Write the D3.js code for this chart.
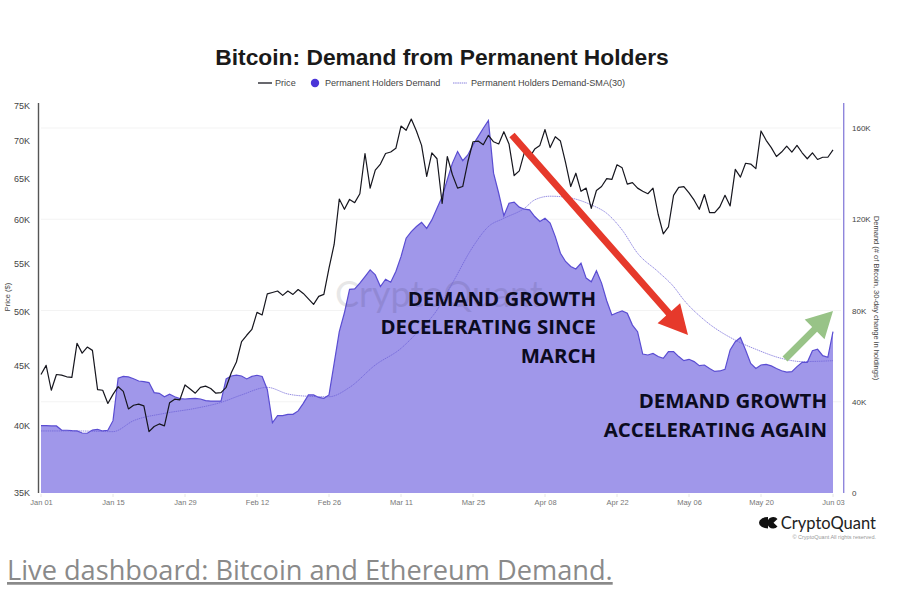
<!DOCTYPE html>
<html>
<head>
<meta charset="utf-8">
<script src="https://cdn.jsdelivr.net/npm/d3@7"></script>
<style>
body { margin: 0; background: #fff; }
text { font-family: "Liberation Sans", Arial, sans-serif; }
.note { font-family: "Open Sans", sans-serif; font-weight: 700; font-size: 20.4px; fill: #0b0b20; text-anchor: end; }
.domain { display: none; }
.tick line { display: none; }
</style>
</head>
<body>
<svg width="897" height="602"></svg>
<script>
// thousands of $, one per day from Jan 01
const priceValues = [
  44.2,45.0,42.85,44.2,44.15,44.0,43.95,47.0,46.1,46.65,46.35,42.9,42.85,41.75,42.5,43.15,42.75,41.3,41.6,41.7,41.55,39.5,39.9,40.1,39.95,41.8,42.1,42.05,43.3,42.95,42.6,
  43.1,43.2,43.0,42.6,42.65,43.1,44.35,45.3,47.15,47.75,48.3,49.95,49.7,51.8,51.95,52.1,51.65,52.1,51.75,52.25,51.85,51.3,50.75,51.55,51.75,54.5,57.1,62.45,61.2,
  62.4,62.0,63.1,68.3,63.8,66.1,66.9,68.3,68.5,69.0,72.1,71.5,73.1,71.4,69.4,65.3,68.4,67.6,61.9,67.9,65.5,63.8,64.0,67.2,69.9,70.0,69.5,70.8,69.9,69.6,71.3,
  69.6,65.4,66.0,68.5,67.8,68.9,69.4,71.6,69.1,70.6,70.0,67.1,64.0,65.7,63.4,63.8,61.3,63.5,64.0,65.0,64.9,66.8,66.4,64.3,64.5,63.8,63.4,63.1,63.8,60.6,
  58.3,59.1,62.9,63.9,64.0,63.2,62.3,61.2,63.0,60.8,60.8,61.5,62.9,61.6,66.2,65.2,67.0,66.9,66.3,71.4,70.1,69.1,67.9,68.5,69.3,68.5,69.4,68.4,67.6,68.4,67.5,
  67.8,67.8,68.8
]

// thousands of BTC, same days
const demandValues = [
  29.5,29.5,29.4,29.4,27.6,27.5,27.3,27.2,26.3,26.2,27.6,27.9,27.2,27.5,31.7,50.3,51.1,50.9,50.1,49.1,48.8,48.4,44,43.7,42.2,43.3,42.2,41.4,41.2,41.4,41.5,
  41.2,40.5,40.3,40.3,40.3,50,51.3,51.7,51.3,50,51.1,51.6,51.1,45.4,30.8,33.9,33.9,34.5,34.5,36,39.3,43,43,41.9,41.5,43,56.8,70.7,79,
  89.3,89.5,92,94.9,97.8,95.6,90.5,93.7,92.4,97.1,103.6,111.7,114.6,116.8,118.6,116,119.7,124.8,129.9,137.3,144.6,149.7,145.7,148.2,152.6,156.2,159.9,163.3,140.2,131.4,121.5,
  127,127.5,125.3,124.4,124.1,121.2,119,120.4,118.3,112.4,105.1,101.5,99.3,98.2,100.7,94.2,92.6,97.4,92,84.3,78,79,79.8,78.8,73.6,70.7,60.9,60.5,61.2,59.8,
  59,62,62,59.8,58,58.6,57.6,55.8,56.1,54.6,53.3,53.5,54.2,62.7,66.3,68.2,62.7,56.8,54.6,56.1,56.4,55.7,54.6,53.6,53,53.2,55.4,57.3,57.3,62.4,63,
  60.2,59.5,70.7
]

// SMA read at these day offsets
const smaDays = [0,7,14,18,24,30,35,39,44,48,52,56,60,65,70,73,77,80,84,87,90,94,96,99,102,107,110,113,116,120,123,125,129,135,139,144,148,154]
const smaValues = [27.2,27.2,26.9,31.7,34.9,37.1,39.7,43,46.3,43.4,42.4,42.2,46.3,56.1,63.4,70,80.2,92,108,116.8,120.4,124.8,128.5,130.1,129.7,126.3,122.6,115.3,105.1,97,90.5,84.6,75.8,67,63,59,57.6,58]

const priceTicks = [35, 40, 45, 50, 55, 60, 65, 70, 75]
const demandTicks = [0, 40, 80, 120, 160]
const dateTickLabels = ["Jan 01","Jan 15","Jan 29","Feb 12","Feb 26","Mar 11","Mar 25","Apr 08","Apr 22","May 06","May 20","Jun 03"]

const parseDay = d3.utcParse("%b %d %Y")
const startDay = parseDay("Jan 01 2024")
const dayAt = (i) => d3.utcDay.offset(startDay, i)

const svg = d3.select("svg")

const xScale = d3.scaleUtc()
    .domain([startDay, parseDay("Jun 03 2024")])
    .range([41, 833])

const priceScale = d3.scaleLog()
    .domain([35, 75])
    .range([493, 106])

const demandScale = d3.scaleLinear()
    .domain([0, 160])
    .range([493, 128])

// grid comes from the right axis
svg.append("g")
    .selectAll("line")
    .data(demandTicks.slice(1))
    .enter()
    .append("line")
    .attr("x1", 41)
    .attr("x2", 841)
    .attr("y1", d => demandScale(d))
    .attr("y2", d => demandScale(d))
    .style("stroke", "#f3f3f3")
    .style("stroke-width", 1)

const areaGenerator = d3.area()
    .x((d, i) => xScale(dayAt(i)))
    .y0(demandScale(0))
    .y1(d => demandScale(d))

const demandLine = d3.line()
    .x((d, i) => xScale(dayAt(i)))
    .y(d => demandScale(d))

svg.append("path")
    .datum(demandValues)
    .attr("d", areaGenerator)
    .style("fill", "#a097ea")

svg.append("path")
    .datum(demandValues)
    .attr("d", demandLine)
    .style("fill", "none")
    .style("stroke", "#5a4dd2")
    .style("stroke-width", 1.2)

// watermark
svg.append("text")
    .attr("x", 335)
    .attr("y", 307)
    .style("font-size", "36px")
    .style("font-family", "Lato, sans-serif")
    .style("fill", "#000")
    .style("opacity", 0.09)
    .text("CryptoQuant")

const smaLine = d3.line()
    .x((d, i) => xScale(dayAt(smaDays[i])))
    .y(d => demandScale(d))
    .curve(d3.curveMonotoneX)

svg.append("path")
    .datum(smaValues)
    .attr("d", smaLine)
    .style("fill", "none")
    .style("stroke", "#6a5fd6")
    .style("stroke-width", 0.7)
    .style("stroke-dasharray", "1.5 0.7")

const priceLine = d3.line()
    .x((d, i) => xScale(dayAt(i)))
    .y(d => priceScale(d))

svg.append("path")
    .datum(priceValues)
    .attr("d", priceLine)
    .style("fill", "none")
    .style("stroke", "#16161e")
    .style("stroke-width", 1.2)
    .style("stroke-linejoin", "round")

// axes
const leftAxis = svg.append("g")
    .attr("transform", "translate(30, 0)")
    .call(d3.axisLeft(priceScale).tickValues(priceTicks).tickSize(0).tickPadding(0).tickFormat(d => d + "K"))

leftAxis.selectAll("text")
    .style("font-size", "9px")
    .style("fill", "#444")

const rightAxis = svg.append("g")
    .attr("transform", "translate(852, 0)")
    .call(d3.axisRight(demandScale).tickValues(demandTicks).tickSize(0).tickPadding(0).tickFormat(d => d ? d + "K" : "0"))

rightAxis.selectAll("text")
    .style("font-size", "8px")
    .style("fill", "#444")

const dateTicks = dateTickLabels.map(d => parseDay(d + " 2024"))

const bottomAxis = svg.append("g")
    .attr("transform", "translate(0, 500)")
    .call(d3.axisBottom(xScale).tickValues(dateTicks).tickSize(0).tickPadding(0).tickFormat(d3.utcFormat("%b %d")))

bottomAxis.selectAll("text")
    .style("font-size", "7.5px")
    .style("fill", "#777")

svg.append("g")
    .selectAll("line")
    .data(dateTicks)
    .enter()
    .append("line")
    .attr("x1", d => xScale(d))
    .attr("x2", d => xScale(d))
    .attr("y1", 494)
    .attr("y2", 497)
    .style("stroke", "#e6e6e6")

svg.append("line")
    .attr("x1", 38.5).attr("x2", 38.5)
    .attr("y1", 103).attr("y2", 493)
    .style("stroke", "#555")
    .style("stroke-width", 1.4)

svg.append("line")
    .attr("x1", 843.7).attr("x2", 843.7)
    .attr("y1", 103).attr("y2", 493)
    .style("stroke", "#8f86dc")
    .style("stroke-width", 1.4)

svg.append("text")
    .attr("transform", "translate(10, 297) rotate(-90)")
    .attr("text-anchor", "middle")
    .style("font-size", "7.5px")
    .style("fill", "#444")
    .text("Price ($)")

svg.append("text")
    .attr("transform", "translate(874, 298) rotate(90)")
    .attr("text-anchor", "middle")
    .style("font-size", "7.5px")
    .style("fill", "#444")
    .text("Demand (# of Bitcoin, 30-day change in holdings)")

// title and legend
svg.append("text")
    .attr("x", 442)
    .attr("y", 65)
    .attr("text-anchor", "middle")
    .style("font-size", "22.8px")
    .style("font-weight", "bold")
    .style("fill", "#1a1a1a")
    .text("Bitcoin: Demand from Permanent Holders")

const legend = svg.append("g").style("font-size", "9.1px").style("fill", "#444")

legend.append("line").attr("x1", 258).attr("x2", 272).attr("y1", 83).attr("y2", 83)
    .style("stroke", "#16161e").style("stroke-width", 1.3)
legend.append("text").attr("x", 275).attr("y", 86).text("Price")
legend.append("circle").attr("cx", 315).attr("cy", 83).attr("r", 4.2).style("fill", "#4b35d8")
legend.append("text").attr("x", 325).attr("y", 86).text("Permanent Holders Demand")
legend.append("line").attr("x1", 453).attr("x2", 467).attr("y1", 83).attr("y2", 83)
    .style("stroke", "#6a5fd6").style("stroke-width", 0.8).style("stroke-dasharray", "1.5 0.7")
legend.append("text").attr("x", 471).attr("y", 86).text("Permanent Holders Demand-SMA(30)")

// arrows
const arrow = (x1, y1, x2, y2, width, headLen, headHalf, color) => {
    const a = Math.atan2(y2 - y1, x2 - x1)
    const c = Math.cos(a), s = Math.sin(a)
    const bx = x2 - headLen * c, by = y2 - headLen * s
    const pts = [
        [x1 - s * width / 2, y1 + c * width / 2],
        [bx - s * width / 2, by + c * width / 2],
        [bx - s * headHalf, by + c * headHalf],
        [x2, y2],
        [bx + s * headHalf, by - c * headHalf],
        [bx + s * width / 2, by - c * width / 2],
        [x1 + s * width / 2, y1 - c * width / 2]
    ]
    svg.append("path")
        .attr("d", d3.line()(pts) + "Z")
        .style("fill", color)
}

arrow(512, 135, 688, 335, 7, 29, 15, "#e6392b")
arrow(785, 359, 833, 311, 7, 26, 14, "#98c387")

// notes
const notes = [
    ["DEMAND GROWTH", 596, 306],
    ["DECELERATING SINCE", 596, 334],
    ["MARCH", 596, 363],
    ["DEMAND GROWTH", 827, 408],
    ["ACCELERATING AGAIN", 827, 436.5]
]

svg.selectAll("text.note")
    .data(notes)
    .enter()
    .append("text")
    .attr("class", "note")
    .attr("x", d => d[1])
    .attr("y", d => d[2])
    .text(d => d[0])

// logo
const logo = svg.append("g").attr("transform", "translate(759, 517)").style("fill", "#111")
logo.append("path").attr("d", "M9 0 A9 5.75 0 0 0 9 11.5 Z")
logo.append("path").attr("d", "M18.5 2 A5.8 5.8 0 1 0 18.5 9.5 L14.5 5.8 Z")

svg.append("text")
    .attr("x", 876)
    .attr("y", 529)
    .attr("text-anchor", "end")
    .style("font-family", "Lato, sans-serif")
    .style("font-size", "16.5px")
    .style("fill", "#222")
    .text("CryptoQuant")

svg.append("text")
    .attr("x", 876)
    .attr("y", 539)
    .attr("text-anchor", "end")
    .style("font-size", "5.5px")
    .style("fill", "#999")
    .text("© CryptoQuant All rights reserved.")

svg.append("text")
    .attr("x", 7)
    .attr("y", 580)
    .style("font-family", "'Open Sans', sans-serif")
    .style("font-size", "27.2px")
    .style("fill", "#8a8a8a")
    .style("text-decoration", "underline")
    .text("Live dashboard: Bitcoin and Ethereum Demand.")
</script>
</body>
</html>
